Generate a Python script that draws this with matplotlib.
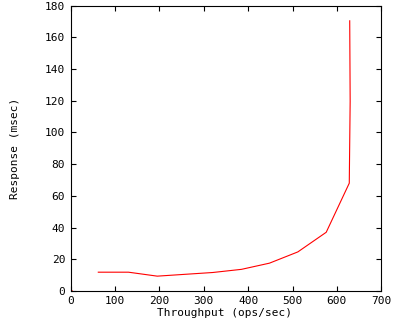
import numpy as np
import matplotlib
matplotlib.use("Agg")
import matplotlib.pyplot as plt

# throughput (ops/sec) vs response time (msec); leading (0, 0) point is isolated
throughput = [0, np.nan, 62, 130, 195, 260, 320, 385, 448, 512, 576, 628, 630, 629]
response = [0, np.nan, 11.8, 11.8, 9.3, 10.5, 11.6, 13.6, 17.5, 24.6, 37.0, 68.0, 119.6, 170.5]

X_TICKS = [0, 100, 200, 300, 400, 500, 600, 700]
Y_TICKS = [0, 20, 40, 60, 80, 100, 120, 140, 160, 180]

plt.rcParams["font.family"] = "DejaVu Sans Mono"
plt.rcParams["font.size"] = 8

fig = plt.figure(figsize=(4, 3.2), dpi=100)
ax = fig.add_axes([0.177, 0.091, 0.776, 0.891])
ax.plot(throughput, response, color="red", lw=0.8)
ax.plot([0], [0], "s", color="red", ms=1)

ax.set_xlim(0, 700)
ax.set_ylim(0, 180)
ax.set_xticks(X_TICKS)
ax.set_yticks(Y_TICKS)
ax.tick_params(direction="in", length=3.5, width=0.8, top=True, right=True)
ax.tick_params(axis="x", pad=3.5)
ax.tick_params(axis="y", pad=4)
for s in ax.spines.values():
    s.set_linewidth(0.8)
# x label placed by hand, the space below the axis is tight
fig.text(0.562, 0.022, "Throughput (ops/sec)", ha="center", va="center")
ax.set_ylabel("Response (msec)", labelpad=18)

fig.savefig("out.png", dpi=100)
